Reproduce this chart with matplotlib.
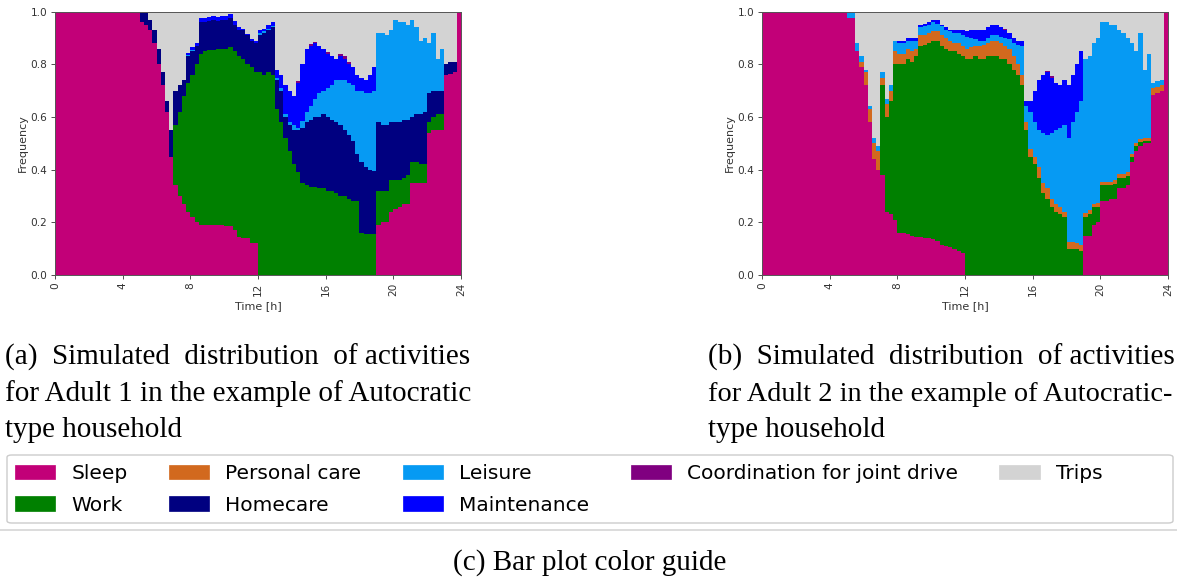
import numpy as np
import matplotlib
matplotlib.use("Agg")
import matplotlib.pyplot as plt
from matplotlib.patches import Patch, FancyBboxPatch
from matplotlib.lines import Line2D

W, H = 1177, 582

# time axis: 96 bins of 15 minutes
bin_hours = 0.25
bin_edges = np.arange(97) * bin_hours
hour_ticks = [0, 4, 8, 12, 16, 20, 24]

activities = ["Sleep", "Work", "Personal care", "Homecare", "Leisure",
              "Maintenance", "Coordination for joint drive", "Trips"]
colors = ["#c20078", "green", "chocolate", "navy", "#069af3", "blue",
          "purple", "lightgrey"]

# Adult 1 - share of the population in each activity per bin
a1_sleep = [1.0]*20 + [.96, .95, .93, .88, .80, .72, .62, .45, .34, .30, .27, .24, .22, .20, .19,
                       .19, .19, .19, .19, .19, .185, .185, .17, .145, .14, .14, .12, .12] + [0.0]*28 + \
           [.19, .20, .20, .24, .25, .26, .27, .27, .35, .35, .35, .35, .54, .55, .55, .55, .76, .765, .77, 1.0]
a1_work = [0.0]*28 + [.23, .32, .41, .49, .54, .60, .65, .66, .665, .665, .67, .67,
                      .675, .68, .68, .685, .68, .66, .67, .65, .77, .76, .77, .76] + \
          [.63, .58, .52, .47, .42, .39, .35, .34, .335, .335, .33, .33, .32, .32, .31, .30,
           .30, .29, .28, .28, .16, .155, .155, .155] + \
          [.13, .12, .12, .12, .11, .10, .10, .11, .08, .08, .07, .07, .04, .05, .06, .06] + [0.0]*4
a1_personal = [0.0]*96
a1_home = [0.0]*20 + [.04, .05, .04, .05, .06, .05, .04, .10] + \
          [.13, .10, .06, .10, .09, .07, .12, .11, .11, .115, .105, .11, .11, .11, .10, .10,
           .11, .11, .10, .11, .14, .16, .16, .18] + \
          [.11, .12, .08, .10, .13, .16, .21, .24, .255, .265, .27, .28, .28, .27, .27, .27,
           .25, .24, .23, .18, .27, .255, .245, .24] + \
          [.26, .25, .25, .22, .22, .22, .22, .21, .17, .18, .19, .20, .11, .10, .09, .09, .04, .045, .04, 0.0]
a1_leisure = [0.0]*31 + [.005, .005] + [0.0]*15 + [.01, .005, .005, .005] + \
             [.01, .01, .01, .01, .02, .01, .025, .04, .05, .07, .09, .09, .11, .13, .16, .17,
              .19, .20, .21, .24, .27, .28, .29, .305] + \
             [.34, .35, .34, .35, .39, .38, .37, .36, .37, .33, .28, .28, .19, .22, .12, .16] + [0.0]*4
a1_maint = [0.0]*31 + [.01, .01, .01, .015, .015, .015, .015, .015, .015, .015, .015, .015,
                       .01, .005, .005, .005, .01, .01, .01, .015, .015] + \
           [.03, .05, .11, .12, .11, .17, .215, .24, .23, .21, .18, .16, .13, .11, .08, .09,
            .08, .07, .07, .06, .05, .05, .07, .09] + [0.0]*20
a1_coord = [0.0]*57 + [.005, 0, 0, .008, .005, 0, 0, .008, 0, 0, .01, .01, .01] + [0.0]*26
a1_trips = [0.0]*22 + [.03, .07, .14, .23, .34, .45, .30, .28, .26, .155, .135, .12, .025,
                       .025, .02, .015, .02, .015, .015, .01, .035, .06, .065, .085, .105, .11,
                       .07, .065, .05, .04] + \
           [.22, .24, .28, .30, .32, .265, .20, .14, .122, .115, .13, .14, .152, .17, .18, .16,
            .17, .19, .21, .24, .25, .26, .24, .21] + \
           [.08, .08, .09, .07, .03, .04, .04, .05, .03, .06, .11, .10, .12, .08, .18, .14, .20, .19, .19, 0.0]

# Adult 2
a2_sleep = [1.0]*20 + [.975, .975, .85, .79, .72, .58, .44, .40, .38, .24, .23, .21, .16, .16,
                       .155, .15, .145, .145, .14, .14, .135, .13, .115, .11, .105, .10, .09, .085] + \
           [0.0]*28 + [.15, .15, .19, .20, .28, .28, .29, .29, .33, .33, .34, .43, .47, .49, .50, .50,
                       .685, .69, .70, 1.0]
a2_work = [0.0]*28 + [.34, .36, .43, .59, .64, .64, .665, .66, .685, .725, .735, .74, .755, .76,
                      .755, .75, .745, .75, .75, .745, .82, .82, .83, .82] + \
          [.82, .83, .83, .83, .82, .82, .80, .78, .76, .72, .55, .45, .42, .37, .31, .29,
           .26, .24, .23, .22, .10, .10, .10, .09] + \
          [.07, .08, .07, .06, .06, .06, .05, .055, .04, .04, .035, .02, .02, .015, .01, .01] + [0.0]*4
a2_personal = [0.0]*23 + [.02, .05, .05, .06, .07, .03, .05, .04, .05, .04, .04, .04, .04, .03,
                          .04, .035, .04, .035, .035, .04, .04, .04, .03, .04, .04, .04, .045, .04, .05] + \
              [.055, .05, .06, .06, .06, .05, .06, .05, .04, .04, .03, .03, .03, .04, .04, .04,
               .03, .03, .03, .02, .025, .025, .02, .025] + \
              [.015, .015, .01, .015, .015, .015, .015, .015, .015, .015, .015, .01, .01, .01, .01, .01,
               .025, .025, .02, 0.0]
a2_home = [0.0]*96
a2_leisure = [0.0]*20 + [.025, .025, .03, .02, .01, .01, .02, .02, .02, .02, .02, .04, .04, .04,
                         .03, .04, .03, .03, .035, .03, .035, .03, .035, .03, .035, .04, .04, .04,
                         .045, .035, .025, .02] + \
             [.015, .02, .02, .02, .025, .03, .035, .05, .075, .11, .06, .14, .13, .14, .19, .20,
              .25, .28, .30, .33, .395, .455, .50, .545] + \
             [.585, .585, .61, .625, .605, .605, .595, .59, .545, .535, .51, .42, .35, .405, .26, .32,
              .02, .02, .02, 0.0]
a2_maint = [0.0]*32 + [.01, .01, .01, .01, .01, .01, .01, .01, .01, .015, .005, .01, .005, .01,
                       .01, .02, .02, .03, .035, .04] + \
           [.04, .04, .04, .04, .035, .03, .025, .02, .015, .02, .02, .04, .12, .19, .22, .24,
            .21, .18, .16, .17, .20, .18, .18, .19] + [0.0]*20
a2_coord = [0.0]*57 + [.005] + [0.0]*9 + [.005, .005] + [0.0]*27
a2_trips = [0.0]*22 + [.12, .17, .22, .36, .48, .51, .23, .33, .28, .11, .11, .11, .10, .10,
                       .10, .05, .045, .04, .03, .03, .05, .06, .07, .07, .07, .07, .075, .07, .07, .07] + \
           [.07, .06, .05, .05, .06, .065, .08, .10, .11, .11, .34, .34, .30, .26, .24, .225,
            .245, .27, .28, .26, .28, .24, .20, .15] + \
           [.18, .17, .12, .10, .04, .04, .05, .05, .07, .08, .10, .12, .15, .08, .22, .16, .27, .265, .26, 0.0]

adult1 = [a1_sleep, a1_work, a1_personal, a1_home, a1_leisure, a1_maint, a1_coord, a1_trips]
adult2 = [a2_sleep, a2_work, a2_personal, a2_home, a2_leisure, a2_maint, a2_coord, a2_trips]


def px(x, y):
    """pixel position in the picture -> figure fraction"""
    return x / W, 1 - y / H


def draw_profile(ax, shares):
    # stacked step bars, one filled layer per activity
    bottom = np.zeros(len(bin_edges) - 1)
    for share, color in zip(shares, colors):
        share = np.asarray(share, dtype=float)
        ax.stairs(bottom + share, bin_edges, baseline=bottom, fill=True,
                  color=color, linewidth=0)
        bottom = bottom + share
    ax.set_xlim(0, 24)
    ax.set_ylim(0, 1)
    ax.set_xticks(hour_ticks)
    ax.set_xticklabels([str(h) for h in hour_ticks], rotation=90)
    ax.set_yticks([0, 0.2, 0.4, 0.6, 0.8, 1.0])
    ax.tick_params(labelsize=7.6, length=3, width=0.6, pad=2.5, colors="#333333")
    ax.set_xlabel("Time [h]", fontsize=8, labelpad=3.5, color="#333333")
    ax.set_ylabel("Frequency", fontsize=8, labelpad=2, color="#333333")
    for sp in ax.spines.values():
        sp.set_color("#555555")
        sp.set_linewidth(0.7)


fig = plt.figure(figsize=(W / 100, H / 100), dpi=100)
ax1 = fig.add_axes([55 / W, 1 - 275 / H, 406 / W, 263.3 / H])
ax2 = fig.add_axes([762 / W, 1 - 275 / H, 406 / W, 263.3 / H])
draw_profile(ax1, adult1)
draw_profile(ax2, adult2)

# sub-figure captions
serif = "Liberation Serif"
cap = dict(fontsize=21, family=serif, va="baseline", ha="left")
fig.text(*px(5, 365), "(a)  Simulated  distribution  of activities", **cap)
fig.text(*px(5, 401), "for Adult 1 in the example of Autocratic", **cap)
fig.text(*px(5, 437), "type household", **cap)
fig.text(*px(708, 365), "(b)  Simulated  distribution  of activities", **cap)
fig.text(*px(708, 401), "for Adult 2 in the example of Autocratic-",
         **{**cap, "fontsize": 20.4})
fig.text(*px(708, 437), "type household", **cap)

# colour guide
handles = [Patch(facecolor=c, edgecolor=c, linewidth=0.5, label=a)
           for a, c in zip(activities, colors)]
fig.legend(handles=handles, loc="upper left", bbox_to_anchor=px(7, 456), ncol=5,
           fontsize=14.5, frameon=False, borderaxespad=0, columnspacing=2.05,
           labelspacing=0.62)
x0, y0 = px(7, 523)
x1, y1 = px(1173, 455)
frame = FancyBboxPatch((x0, y0), x1 - x0, y1 - y0, transform=fig.transFigure,
                       boxstyle="round,pad=0,rounding_size=0.004",
                       facecolor="white", edgecolor="0.8", linewidth=1.0, zorder=1)
fig.add_artist(frame)
fig.add_artist(Line2D([0, 1], [1 - 530 / H] * 2, transform=fig.transFigure,
                      color="0.85", linewidth=1.3))
fig.text(*px(590, 570), "(c) Bar plot color guide", fontsize=21, family=serif,
         va="baseline", ha="center")

fig.savefig("out.png", dpi=100)
